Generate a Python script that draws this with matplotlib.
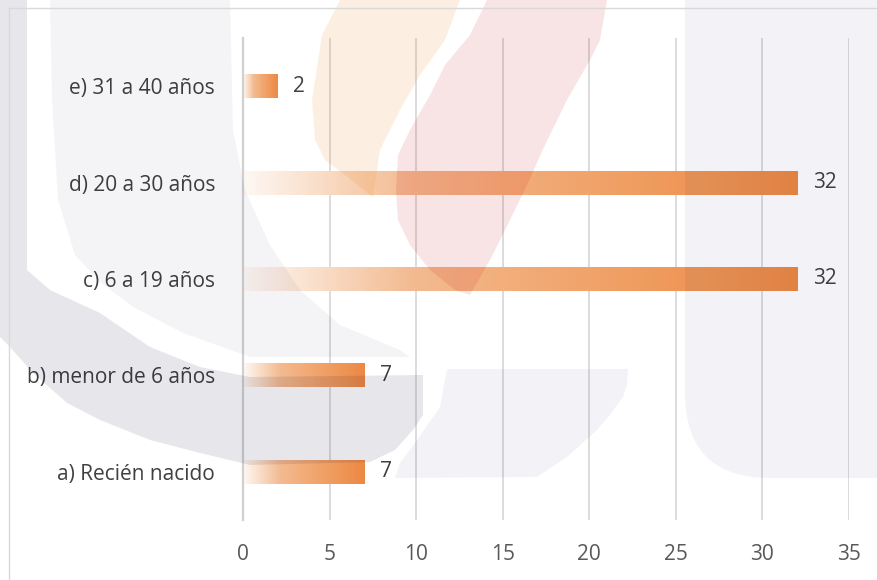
import numpy as np
import matplotlib.pyplot as plt
from matplotlib.patches import Polygon, FancyBboxPatch
from matplotlib.colors import LinearSegmentedColormap

plt.rcParams["font.family"] = ["Open Sans", "DejaVu Sans"]

categories = [
    "a) Recién nacido",
    "b) menor de 6 años",
    "c) 6 a 19 años",
    "d) 20 a 30 años",
    "e) 31 a 40 años",
]
counts = [7, 7, 32, 32, 2]
x_ticks = [0, 5, 10, 15, 20, 25, 30, 35]

W, H = 878, 580

# bar fill: pale at the base, full orange at the tip
bar_cmap = LinearSegmentedColormap.from_list("bar_grad", [
    (0.00, (254 / 255, 248 / 255, 244 / 255)),
    (0.12, (250 / 255, 225 / 255, 205 / 255)),
    (0.30, (243 / 255, 187 / 255, 146 / 255)),
    (0.50, (242 / 255, 172 / 255, 120 / 255)),
    (0.70, (240 / 255, 158 / 255, 98 / 255)),
    (1.00, (237 / 255, 136 / 255, 68 / 255)),
])


def tint(hex_color):
    # colour + alpha that turn white into hex_color while darkening
    # whatever lies underneath (close to a multiply blend)
    rgb = np.array([int(hex_color[i:i + 2], 16) for i in (1, 3, 5)], float)
    drop = 255 - rgb
    a = max(drop.max() / 255, 1e-3)
    c = np.clip(255 - drop / a, 0, 255) / 255
    return tuple(c), a


fig = plt.figure(figsize=(W / 100, H / 100), dpi=100)
fig.patch.set_facecolor("white")

ax = fig.add_axes([243 / W, 60 / H, (849 - 243) / W, 482 / H])
ax.set_facecolor("none")

y = np.arange(len(categories))
bar_h = 0.25
bars = ax.barh(y, counts, height=bar_h, color="none", edgecolor="none", zorder=2)
grad = np.linspace(0, 1, 256).reshape(1, -1)
for bar, val, yi in zip(bars, counts, y):
    im = ax.imshow(grad, cmap=bar_cmap, aspect="auto", interpolation="bilinear",
                   extent=[0, val, yi - bar_h / 2, yi + bar_h / 2], zorder=2)
    im.set_clip_path(bar)
    ax.text(val + 0.9, yi, str(val), va="center", ha="left",
            fontsize=15, color="#404040", zorder=3)

ax.set_xlim(0, 35)
ax.set_ylim(-0.5, len(categories) - 0.5)
ax.set_xticks(x_ticks)
ax.set_xticklabels([str(t) for t in x_ticks])
ax.set_yticks(y)
ax.set_yticklabels(categories)
ax.tick_params(axis="x", length=0, pad=17, labelsize=15, labelcolor="#595959")
ax.tick_params(axis="y", length=0, pad=20, labelsize=15, labelcolor="#404040")
ax.grid(axis="x", color="#d9d9d9", linewidth=1.3, zorder=0)
ax.set_axisbelow(True)
for side in ("top", "right", "bottom"):
    ax.spines[side].set_visible(False)
ax.spines["left"].set_color("#d0d0d0")
ax.spines["left"].set_linewidth(1.6)

# watermark layer, laid over the chart in pixel coordinates
wm = fig.add_axes([0, 0, 1, 1], zorder=5)
wm.set_xlim(0, W)
wm.set_ylim(H, 0)
wm.set_facecolor("none")
wm.axis("off")

# outer frame
wm.plot([9, W], [8, 8], color="#d9d9d9", lw=1)
wm.plot([9, 9], [8, H], color="#d9d9d9", lw=1)

shapes = [
    ("#e7e7ec", [(0, 0), (27, 0), (27, 270), (50, 290), (100, 313), (150, 347),
                 (200, 367), (250, 377), (423, 375), (423, 415), (413, 430),
                 (395, 450), (370, 462), (250, 465), (200, 453), (150, 440),
                 (100, 420), (67, 403), (33, 373), (10, 347), (0, 337)]),
    ("#f4f4f7", [(50, 0), (230, 0), (233, 130), (245, 190), (270, 245),
                 (300, 290), (340, 325), (400, 350), (410, 357), (250, 357),
                 (183, 333), (133, 307), (100, 282), (75, 255), (58, 200),
                 (52, 100)]),
    ("#f3f4f7", [(447, 369), (628, 369), (627, 385), (623, 397), (610, 415),
                 (597, 430), (567, 457), (537, 477), (395, 478), (400, 463),
                 (417, 440), (440, 407)]),
    ("#fdf0e2", [(340, 0), (460, 0), (445, 40), (420, 75), (400, 110),
                 (380, 150), (373, 197), (345, 175), (325, 160), (315, 140),
                 (312, 100), (322, 35)]),
    ("#f9e4e4", [(487, 0), (607, 0), (600, 40), (590, 60), (567, 100),
                 (545, 145), (527, 185), (510, 220), (490, 260), (470, 295),
                 (455, 290), (430, 270), (410, 245), (398, 220), (396, 190),
                 (398, 155), (410, 130), (430, 95), (445, 65), (470, 35)]),
]
for color, pts in shapes:
    c, a = tint(color)
    wm.add_patch(Polygon(pts, closed=True, facecolor=c, alpha=a,
                         edgecolor="none"))

c, a = tint("#f3f4f7")
wm.add_patch(FancyBboxPatch((685, -100), 400, 578,
                            boxstyle="round,pad=0,rounding_size=85",
                            facecolor=c, alpha=a, edgecolor="none"))

fig.savefig("out.png", dpi=100)
